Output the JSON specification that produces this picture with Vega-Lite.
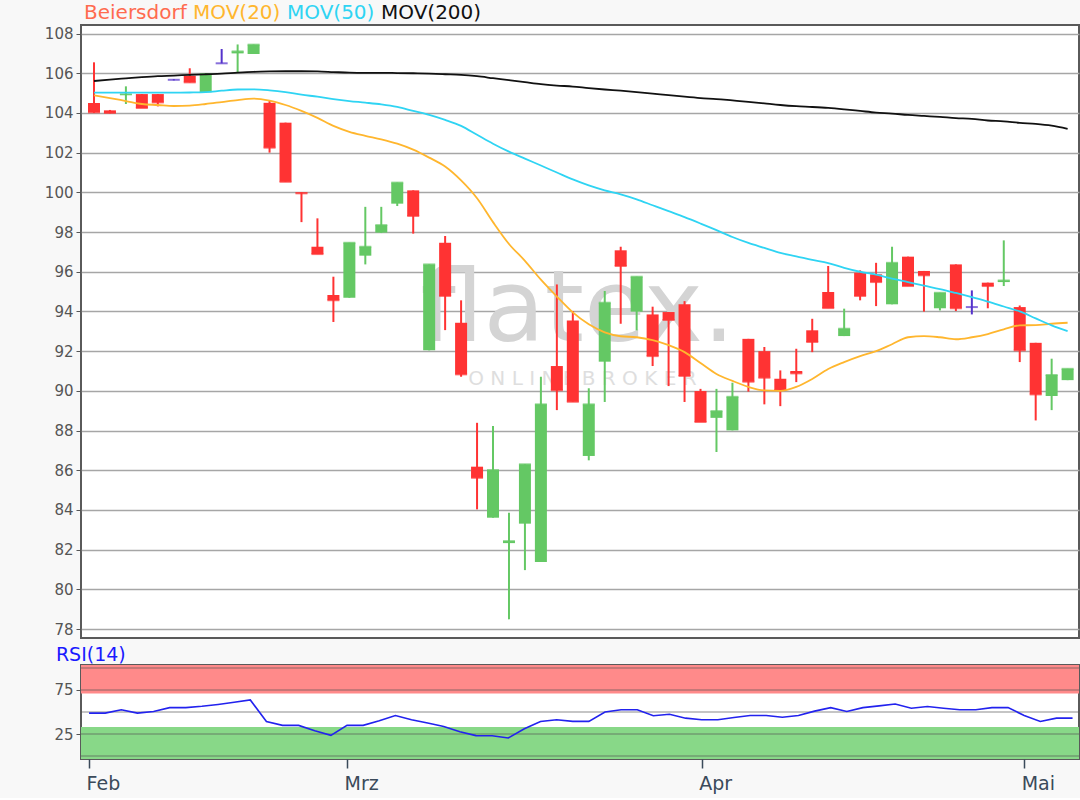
{
  "$schema": "https://vega.github.io/schema/vega-lite/v6.json",
  "background": "#f8f8f8",
  "padding": {"left": 43, "top": 3, "right": 0, "bottom": 4},
  "autosize": {"type": "pad"},
  "spacing": 6,
  "config": {
    "font": "DejaVu Sans",
    "view": {"stroke": "#5a5a5a", "strokeWidth": 2, "fill": "#ffffff"},
    "axis": {"labelFont": "DejaVu Sans", "labelColor": "#555555", "tickColor": "#555555", "domain": false, "title": null}
  },
  "datasets": {
    "candles": [
      {"i": 0, "open": 104.5, "high": 106.55, "low": 104.0, "close": 104.03},
      {"i": 1, "open": 104.13, "high": 104.15, "low": 103.98, "close": 104.0},
      {"i": 2, "open": 104.9, "high": 105.34, "low": 104.45, "close": 104.94},
      {"i": 3, "open": 104.95, "high": 104.95, "low": 104.25, "close": 104.25},
      {"i": 4, "open": 104.95, "high": 104.95, "low": 104.33, "close": 104.53},
      {"i": 5, "open": 105.67, "high": 105.7, "low": 105.64, "close": 105.67},
      {"i": 6, "open": 105.87, "high": 106.25, "low": 105.54, "close": 105.54},
      {"i": 7, "open": 105.04, "high": 106.0, "low": 105.04, "close": 105.96},
      {"i": 8, "open": 106.5, "high": 107.22, "low": 106.5, "close": 106.5},
      {"i": 9, "open": 107.0, "high": 107.45, "low": 106.05, "close": 107.1},
      {"i": 10, "open": 106.97, "high": 107.44, "low": 106.97, "close": 107.44},
      {"i": 11, "open": 104.51, "high": 104.6, "low": 102.0, "close": 102.25},
      {"i": 12, "open": 103.51, "high": 103.51, "low": 100.53, "close": 100.53},
      {"i": 13, "open": 100.0, "high": 100.0, "low": 98.5, "close": 99.95},
      {"i": 14, "open": 97.26, "high": 98.69, "low": 96.89, "close": 96.89},
      {"i": 15, "open": 94.83, "high": 95.75, "low": 93.47, "close": 94.57},
      {"i": 16, "open": 94.69, "high": 97.46, "low": 94.69, "close": 97.46},
      {"i": 17, "open": 96.81, "high": 99.27, "low": 96.37, "close": 97.26},
      {"i": 18, "open": 97.97, "high": 99.27, "low": 97.95, "close": 98.35},
      {"i": 19, "open": 99.43, "high": 100.49, "low": 99.31, "close": 100.49},
      {"i": 20, "open": 100.1, "high": 100.1, "low": 97.92, "close": 98.81},
      {"i": 21, "open": 92.04, "high": 96.37, "low": 92.04, "close": 96.37},
      {"i": 22, "open": 97.46, "high": 97.8, "low": 93.06, "close": 94.78},
      {"i": 23, "open": 93.43, "high": 94.56, "low": 90.71, "close": 90.83},
      {"i": 24, "open": 86.18, "high": 88.39, "low": 84.03, "close": 85.62},
      {"i": 25, "open": 83.61, "high": 88.23, "low": 83.61, "close": 86.01},
      {"i": 26, "open": 82.33, "high": 83.86, "low": 78.49, "close": 82.43},
      {"i": 27, "open": 83.31, "high": 86.3, "low": 80.97, "close": 86.3},
      {"i": 28, "open": 81.38, "high": 90.71, "low": 81.38, "close": 89.32},
      {"i": 29, "open": 91.25, "high": 95.36, "low": 89.03, "close": 90.03},
      {"i": 30, "open": 93.55, "high": 94.02, "low": 89.45, "close": 89.45},
      {"i": 31, "open": 86.72, "high": 90.13, "low": 86.5, "close": 89.32},
      {"i": 32, "open": 91.47, "high": 95.03, "low": 89.44, "close": 94.44},
      {"i": 33, "open": 97.08, "high": 97.26, "low": 93.38, "close": 96.29},
      {"i": 34, "open": 93.99, "high": 95.75, "low": 93.05, "close": 95.75},
      {"i": 35, "open": 93.85, "high": 94.24, "low": 91.25, "close": 91.75},
      {"i": 36, "open": 93.97, "high": 93.97, "low": 90.24, "close": 93.57},
      {"i": 37, "open": 94.36, "high": 94.52, "low": 89.44, "close": 90.75},
      {"i": 38, "open": 89.99, "high": 90.1, "low": 88.43, "close": 88.43},
      {"i": 39, "open": 88.64, "high": 90.1, "low": 86.92, "close": 88.98},
      {"i": 40, "open": 88.01, "high": 90.41, "low": 88.01, "close": 89.7},
      {"i": 41, "open": 92.62, "high": 92.62, "low": 89.96, "close": 90.46},
      {"i": 42, "open": 92.0, "high": 92.21, "low": 89.32, "close": 90.66},
      {"i": 43, "open": 90.61, "high": 91.03, "low": 89.23, "close": 90.04},
      {"i": 44, "open": 91.0, "high": 92.12, "low": 90.44, "close": 90.88},
      {"i": 45, "open": 93.05, "high": 93.63, "low": 91.95, "close": 92.46},
      {"i": 46, "open": 94.98, "high": 96.29, "low": 94.17, "close": 94.17},
      {"i": 47, "open": 92.76, "high": 94.14, "low": 92.76, "close": 93.13},
      {"i": 48, "open": 95.95, "high": 96.07, "low": 94.56, "close": 94.78},
      {"i": 49, "open": 95.87, "high": 96.45, "low": 94.27, "close": 95.48},
      {"i": 50, "open": 94.36, "high": 97.26, "low": 94.36, "close": 96.45},
      {"i": 51, "open": 96.76, "high": 96.76, "low": 95.28, "close": 95.28},
      {"i": 52, "open": 96.04, "high": 96.04, "low": 93.99, "close": 95.82},
      {"i": 53, "open": 94.16, "high": 94.94, "low": 94.05, "close": 94.94},
      {"i": 54, "open": 96.37, "high": 96.37, "low": 94.02, "close": 94.16},
      {"i": 55, "open": 94.22, "high": 95.06, "low": 93.85, "close": 94.22},
      {"i": 56, "open": 95.45, "high": 95.45, "low": 94.16, "close": 95.28},
      {"i": 57, "open": 95.48, "high": 97.58, "low": 95.28, "close": 95.56},
      {"i": 58, "open": 94.22, "high": 94.3, "low": 91.45, "close": 92.04},
      {"i": 59, "open": 92.42, "high": 92.42, "low": 88.51, "close": 89.82},
      {"i": 60, "open": 89.74, "high": 91.62, "low": 89.03, "close": 90.8},
      {"i": 61, "open": 90.54, "high": 91.11, "low": 90.54, "close": 91.11}
    ],
    "mov": [
      {"i": 0, "series": "MOV(20)", "value": 104.89}, {"i": 1, "series": "MOV(20)", "value": 104.75}, {"i": 2, "series": "MOV(20)", "value": 104.6}, {"i": 3, "series": "MOV(20)", "value": 104.45}, {"i": 4, "series": "MOV(20)", "value": 104.4}, {"i": 5, "series": "MOV(20)", "value": 104.35}, {"i": 6, "series": "MOV(20)", "value": 104.37}, {"i": 7, "series": "MOV(20)", "value": 104.45}, {"i": 8, "series": "MOV(20)", "value": 104.55}, {"i": 9, "series": "MOV(20)", "value": 104.65}, {"i": 10, "series": "MOV(20)", "value": 104.72}, {"i": 11, "series": "MOV(20)", "value": 104.62}, {"i": 12, "series": "MOV(20)", "value": 104.4}, {"i": 13, "series": "MOV(20)", "value": 104.1}, {"i": 14, "series": "MOV(20)", "value": 103.75}, {"i": 15, "series": "MOV(20)", "value": 103.35}, {"i": 16, "series": "MOV(20)", "value": 103.05}, {"i": 17, "series": "MOV(20)", "value": 102.85}, {"i": 18, "series": "MOV(20)", "value": 102.67}, {"i": 19, "series": "MOV(20)", "value": 102.45}, {"i": 20, "series": "MOV(20)", "value": 102.15}, {"i": 21, "series": "MOV(20)", "value": 101.75}, {"i": 22, "series": "MOV(20)", "value": 101.3}, {"i": 23, "series": "MOV(20)", "value": 100.6}, {"i": 24, "series": "MOV(20)", "value": 99.7}, {"i": 25, "series": "MOV(20)", "value": 98.5}, {"i": 26, "series": "MOV(20)", "value": 97.4}, {"i": 27, "series": "MOV(20)", "value": 96.55}, {"i": 28, "series": "MOV(20)", "value": 95.6}, {"i": 29, "series": "MOV(20)", "value": 94.75}, {"i": 30, "series": "MOV(20)", "value": 93.95}, {"i": 31, "series": "MOV(20)", "value": 93.35}, {"i": 32, "series": "MOV(20)", "value": 92.95}, {"i": 33, "series": "MOV(20)", "value": 92.75}, {"i": 34, "series": "MOV(20)", "value": 92.7}, {"i": 35, "series": "MOV(20)", "value": 92.55}, {"i": 36, "series": "MOV(20)", "value": 92.3}, {"i": 37, "series": "MOV(20)", "value": 91.95}, {"i": 38, "series": "MOV(20)", "value": 91.4}, {"i": 39, "series": "MOV(20)", "value": 90.85}, {"i": 40, "series": "MOV(20)", "value": 90.5}, {"i": 41, "series": "MOV(20)", "value": 90.2}, {"i": 42, "series": "MOV(20)", "value": 90.02}, {"i": 43, "series": "MOV(20)", "value": 90.0}, {"i": 44, "series": "MOV(20)", "value": 90.2}, {"i": 45, "series": "MOV(20)", "value": 90.6}, {"i": 46, "series": "MOV(20)", "value": 91.1}, {"i": 47, "series": "MOV(20)", "value": 91.45}, {"i": 48, "series": "MOV(20)", "value": 91.75}, {"i": 49, "series": "MOV(20)", "value": 92.0}, {"i": 50, "series": "MOV(20)", "value": 92.35}, {"i": 51, "series": "MOV(20)", "value": 92.7}, {"i": 52, "series": "MOV(20)", "value": 92.76}, {"i": 53, "series": "MOV(20)", "value": 92.7}, {"i": 54, "series": "MOV(20)", "value": 92.6}, {"i": 55, "series": "MOV(20)", "value": 92.7}, {"i": 56, "series": "MOV(20)", "value": 92.86}, {"i": 57, "series": "MOV(20)", "value": 93.1}, {"i": 58, "series": "MOV(20)", "value": 93.3}, {"i": 59, "series": "MOV(20)", "value": 93.31}, {"i": 60, "series": "MOV(20)", "value": 93.38}, {"i": 61, "series": "MOV(20)", "value": 93.43},
      {"i": 0, "series": "MOV(50)", "value": 105.02}, {"i": 1, "series": "MOV(50)", "value": 105.02}, {"i": 2, "series": "MOV(50)", "value": 105.02}, {"i": 3, "series": "MOV(50)", "value": 105.02}, {"i": 4, "series": "MOV(50)", "value": 105.02}, {"i": 5, "series": "MOV(50)", "value": 105.02}, {"i": 6, "series": "MOV(50)", "value": 105.03}, {"i": 7, "series": "MOV(50)", "value": 105.05}, {"i": 8, "series": "MOV(50)", "value": 105.12}, {"i": 9, "series": "MOV(50)", "value": 105.18}, {"i": 10, "series": "MOV(50)", "value": 105.19}, {"i": 11, "series": "MOV(50)", "value": 105.14}, {"i": 12, "series": "MOV(50)", "value": 105.05}, {"i": 13, "series": "MOV(50)", "value": 104.92}, {"i": 14, "series": "MOV(50)", "value": 104.82}, {"i": 15, "series": "MOV(50)", "value": 104.7}, {"i": 16, "series": "MOV(50)", "value": 104.6}, {"i": 17, "series": "MOV(50)", "value": 104.52}, {"i": 18, "series": "MOV(50)", "value": 104.43}, {"i": 19, "series": "MOV(50)", "value": 104.3}, {"i": 20, "series": "MOV(50)", "value": 104.1}, {"i": 21, "series": "MOV(50)", "value": 103.9}, {"i": 22, "series": "MOV(50)", "value": 103.65}, {"i": 23, "series": "MOV(50)", "value": 103.35}, {"i": 24, "series": "MOV(50)", "value": 102.9}, {"i": 25, "series": "MOV(50)", "value": 102.45}, {"i": 26, "series": "MOV(50)", "value": 102.05}, {"i": 27, "series": "MOV(50)", "value": 101.7}, {"i": 28, "series": "MOV(50)", "value": 101.35}, {"i": 29, "series": "MOV(50)", "value": 101.0}, {"i": 30, "series": "MOV(50)", "value": 100.65}, {"i": 31, "series": "MOV(50)", "value": 100.35}, {"i": 32, "series": "MOV(50)", "value": 100.1}, {"i": 33, "series": "MOV(50)", "value": 99.9}, {"i": 34, "series": "MOV(50)", "value": 99.65}, {"i": 35, "series": "MOV(50)", "value": 99.35}, {"i": 36, "series": "MOV(50)", "value": 99.05}, {"i": 37, "series": "MOV(50)", "value": 98.75}, {"i": 38, "series": "MOV(50)", "value": 98.43}, {"i": 39, "series": "MOV(50)", "value": 98.1}, {"i": 40, "series": "MOV(50)", "value": 97.75}, {"i": 41, "series": "MOV(50)", "value": 97.45}, {"i": 42, "series": "MOV(50)", "value": 97.2}, {"i": 43, "series": "MOV(50)", "value": 96.95}, {"i": 44, "series": "MOV(50)", "value": 96.78}, {"i": 45, "series": "MOV(50)", "value": 96.6}, {"i": 46, "series": "MOV(50)", "value": 96.44}, {"i": 47, "series": "MOV(50)", "value": 96.2}, {"i": 48, "series": "MOV(50)", "value": 96.0}, {"i": 49, "series": "MOV(50)", "value": 95.85}, {"i": 50, "series": "MOV(50)", "value": 95.65}, {"i": 51, "series": "MOV(50)", "value": 95.48}, {"i": 52, "series": "MOV(50)", "value": 95.3}, {"i": 53, "series": "MOV(50)", "value": 95.13}, {"i": 54, "series": "MOV(50)", "value": 94.93}, {"i": 55, "series": "MOV(50)", "value": 94.72}, {"i": 56, "series": "MOV(50)", "value": 94.5}, {"i": 57, "series": "MOV(50)", "value": 94.25}, {"i": 58, "series": "MOV(50)", "value": 94.0}, {"i": 59, "series": "MOV(50)", "value": 93.65}, {"i": 60, "series": "MOV(50)", "value": 93.3}, {"i": 61, "series": "MOV(50)", "value": 93.01},
      {"i": 0, "series": "MOV(200)", "value": 105.61}, {"i": 1, "series": "MOV(200)", "value": 105.68}, {"i": 2, "series": "MOV(200)", "value": 105.74}, {"i": 3, "series": "MOV(200)", "value": 105.8}, {"i": 4, "series": "MOV(200)", "value": 105.85}, {"i": 5, "series": "MOV(200)", "value": 105.88}, {"i": 6, "series": "MOV(200)", "value": 105.92}, {"i": 7, "series": "MOV(200)", "value": 105.95}, {"i": 8, "series": "MOV(200)", "value": 105.98}, {"i": 9, "series": "MOV(200)", "value": 106.03}, {"i": 10, "series": "MOV(200)", "value": 106.07}, {"i": 11, "series": "MOV(200)", "value": 106.09}, {"i": 12, "series": "MOV(200)", "value": 106.1}, {"i": 13, "series": "MOV(200)", "value": 106.1}, {"i": 14, "series": "MOV(200)", "value": 106.09}, {"i": 15, "series": "MOV(200)", "value": 106.06}, {"i": 16, "series": "MOV(200)", "value": 106.03}, {"i": 17, "series": "MOV(200)", "value": 106.02}, {"i": 18, "series": "MOV(200)", "value": 106.02}, {"i": 19, "series": "MOV(200)", "value": 106.01}, {"i": 20, "series": "MOV(200)", "value": 106.0}, {"i": 21, "series": "MOV(200)", "value": 105.98}, {"i": 22, "series": "MOV(200)", "value": 105.95}, {"i": 23, "series": "MOV(200)", "value": 105.92}, {"i": 24, "series": "MOV(200)", "value": 105.85}, {"i": 25, "series": "MOV(200)", "value": 105.75}, {"i": 26, "series": "MOV(200)", "value": 105.65}, {"i": 27, "series": "MOV(200)", "value": 105.55}, {"i": 28, "series": "MOV(200)", "value": 105.45}, {"i": 29, "series": "MOV(200)", "value": 105.38}, {"i": 30, "series": "MOV(200)", "value": 105.33}, {"i": 31, "series": "MOV(200)", "value": 105.25}, {"i": 32, "series": "MOV(200)", "value": 105.18}, {"i": 33, "series": "MOV(200)", "value": 105.12}, {"i": 34, "series": "MOV(200)", "value": 105.05}, {"i": 35, "series": "MOV(200)", "value": 104.97}, {"i": 36, "series": "MOV(200)", "value": 104.9}, {"i": 37, "series": "MOV(200)", "value": 104.82}, {"i": 38, "series": "MOV(200)", "value": 104.75}, {"i": 39, "series": "MOV(200)", "value": 104.7}, {"i": 40, "series": "MOV(200)", "value": 104.63}, {"i": 41, "series": "MOV(200)", "value": 104.56}, {"i": 42, "series": "MOV(200)", "value": 104.48}, {"i": 43, "series": "MOV(200)", "value": 104.4}, {"i": 44, "series": "MOV(200)", "value": 104.34}, {"i": 45, "series": "MOV(200)", "value": 104.3}, {"i": 46, "series": "MOV(200)", "value": 104.25}, {"i": 47, "series": "MOV(200)", "value": 104.18}, {"i": 48, "series": "MOV(200)", "value": 104.1}, {"i": 49, "series": "MOV(200)", "value": 104.02}, {"i": 50, "series": "MOV(200)", "value": 103.97}, {"i": 51, "series": "MOV(200)", "value": 103.9}, {"i": 52, "series": "MOV(200)", "value": 103.85}, {"i": 53, "series": "MOV(200)", "value": 103.8}, {"i": 54, "series": "MOV(200)", "value": 103.74}, {"i": 55, "series": "MOV(200)", "value": 103.7}, {"i": 56, "series": "MOV(200)", "value": 103.62}, {"i": 57, "series": "MOV(200)", "value": 103.58}, {"i": 58, "series": "MOV(200)", "value": 103.5}, {"i": 59, "series": "MOV(200)", "value": 103.45}, {"i": 60, "series": "MOV(200)", "value": 103.36}, {"i": 61, "series": "MOV(200)", "value": 103.2}
    ],
    "rsi": [
      {"i": 0, "rsi": 48.7}, {"i": 1, "rsi": 48.7}, {"i": 2, "rsi": 52.5}, {"i": 3, "rsi": 48.7}, {"i": 4, "rsi": 50.5}, {"i": 5, "rsi": 55}, {"i": 6, "rsi": 55}, {"i": 7, "rsi": 56.5}, {"i": 8, "rsi": 58.6}, {"i": 9, "rsi": 61}, {"i": 10, "rsi": 63.7}, {"i": 11, "rsi": 39.3}, {"i": 12, "rsi": 34.8}, {"i": 13, "rsi": 34.8}, {"i": 14, "rsi": 28.8}, {"i": 15, "rsi": 23.5}, {"i": 16, "rsi": 34.8}, {"i": 17, "rsi": 34.8}, {"i": 18, "rsi": 40}, {"i": 19, "rsi": 46}, {"i": 20, "rsi": 41.2}, {"i": 21, "rsi": 37.4}, {"i": 22, "rsi": 33.5}, {"i": 23, "rsi": 27.5}, {"i": 24, "rsi": 23.2}, {"i": 25, "rsi": 23}, {"i": 26, "rsi": 20.5}, {"i": 27, "rsi": 31}, {"i": 28, "rsi": 39.3}, {"i": 29, "rsi": 41.2}, {"i": 30, "rsi": 39.3}, {"i": 31, "rsi": 39.3}, {"i": 32, "rsi": 50}, {"i": 33, "rsi": 52.5}, {"i": 34, "rsi": 52.5}, {"i": 35, "rsi": 45.7}, {"i": 36, "rsi": 47.5}, {"i": 37, "rsi": 43}, {"i": 38, "rsi": 41.2}, {"i": 39, "rsi": 41.2}, {"i": 40, "rsi": 43.8}, {"i": 41, "rsi": 46.1}, {"i": 42, "rsi": 46.1}, {"i": 43, "rsi": 44}, {"i": 44, "rsi": 46}, {"i": 45, "rsi": 51}, {"i": 46, "rsi": 55}, {"i": 47, "rsi": 50.6}, {"i": 48, "rsi": 55}, {"i": 49, "rsi": 57}, {"i": 50, "rsi": 59}, {"i": 51, "rsi": 54.3}, {"i": 52, "rsi": 56.2}, {"i": 53, "rsi": 54.3}, {"i": 54, "rsi": 52.5}, {"i": 55, "rsi": 52.5}, {"i": 56, "rsi": 55}, {"i": 57, "rsi": 55}, {"i": 58, "rsi": 46}, {"i": 59, "rsi": 39.3}, {"i": 60, "rsi": 43}, {"i": 61, "rsi": 43}
    ],
    "zones": [
      {"zone": "overbought", "lo": 71, "hi": 103.4},
      {"zone": "oversold", "lo": -3.4, "hi": 33}
    ],
    "levels": [{"level": 0}, {"level": 25}, {"level": 50}, {"level": 75}, {"level": 100}],
    "watermark": [{"i": 30.3, "y": 92.5, "txt": "flatex."}],
    "watermark2": [{"i": 30.6, "y": 90.6, "txt": "O N L I N E   B R O K E R"}]
  },
  "vconcat": [
    {
      "width": 998,
      "height": 613,
      "layer": [
        {
          "data": {"name": "watermark"},
          "mark": {"type": "text", "fontSize": 100, "color": "#d4d4d4", "align": "center", "baseline": "alphabetic", "font": "DejaVu Sans"},
          "encoding": {
            "x": {"field": "i", "type": "quantitative", "scale": {"domain": [-0.5, 61.4], "nice": false, "zero": false}, "axis": null},
            "y": {"field": "y", "type": "quantitative", "scale": {"domain": [77.55, 108.43], "nice": false, "zero": false},
              "axis": {"values": [78, 80, 82, 84, 86, 88, 90, 92, 94, 96, 98, 100, 102, 104, 106, 108], "grid": true, "gridColor": "#a6a6a6", "gridWidth": 1.6, "tickSize": 5, "labelFontSize": 15, "labelPadding": 3, "title": null}},
            "text": {"field": "txt", "type": "nominal"}
          }
        },
        {
          "data": {"name": "watermark2"},
          "mark": {"type": "text", "fontSize": 20, "color": "#dedede", "align": "center", "baseline": "middle", "font": "DejaVu Sans"},
          "encoding": {
            "x": {"field": "i", "type": "quantitative"},
            "y": {"field": "y", "type": "quantitative"},
            "text": {"field": "txt", "type": "nominal"}
          }
        },
        {
          "data": {"name": "candles"},
          "mark": {"type": "rule", "strokeWidth": 2},
          "encoding": {
            "x": {"field": "i", "type": "quantitative"},
            "y": {"field": "low", "type": "quantitative"},
            "y2": {"field": "high"},
            "color": {"condition": [{"test": "datum.close > datum.open", "value": "#64c864"}, {"test": "datum.close == datum.open", "value": "#5533cc"}], "value": "#ff3333"}
          }
        },
        {
          "data": {"name": "candles"},
          "mark": {"type": "bar", "width": 12},
          "encoding": {
            "x": {"field": "i", "type": "quantitative"},
            "y": {"field": "open", "type": "quantitative"},
            "y2": {"field": "close"},
            "color": {"condition": [{"test": "datum.close > datum.open", "value": "#64c864"}, {"test": "datum.close == datum.open", "value": "#5533cc"}], "value": "#ff3333"}
          }
        },
        {
          "data": {"name": "candles"},
          "mark": {"type": "tick", "orient": "horizontal", "size": 12, "thickness": 2},
          "encoding": {
            "x": {"field": "i", "type": "quantitative"},
            "y": {"field": "close", "type": "quantitative"},
            "color": {"condition": [{"test": "datum.close > datum.open", "value": "#64c864"}, {"test": "datum.close == datum.open", "value": "#5533cc"}], "value": "#ff3333"}
          }
        },
        {
          "data": {"name": "mov"},
          "mark": {"type": "line", "strokeWidth": 1.8, "interpolate": "monotone"},
          "encoding": {
            "x": {"field": "i", "type": "quantitative"},
            "y": {"field": "value", "type": "quantitative"},
            "stroke": {
              "field": "series", "type": "nominal",
              "scale": {"domain": ["Beiersdorf", "MOV(20)", "MOV(50)", "MOV(200)"], "range": ["#ff6b4f", "#ffb62e", "#2fd4f3", "#111111"]},
              "legend": {
                "orient": "none", "legendX": 3, "legendY": -22, "direction": "horizontal", "title": null,
                "symbolType": "circle", "symbolSize": 0.01, "symbolStrokeWidth": 0, "symbolOpacity": 0, "labelOffset": -20, "columnPadding": 6,
                "labelFontSize": 20, "labelFont": "DejaVu Sans", "labelLimit": 0, "padding": 0,
                "labelColor": {"expr": "datum.value == 'Beiersdorf' ? '#ff6b4f' : datum.value == 'MOV(20)' ? '#ffb62e' : datum.value == 'MOV(50)' ? '#2fd4f3' : '#111111'"}
              }
            }
          }
        }
      ]
    },
    {
      "width": 998,
      "height": 94,
      "title": {"text": "RSI(14)", "anchor": "start", "color": "#1a1aff", "fontSize": 19, "font": "DejaVu Sans", "fontWeight": "normal", "offset": 0, "dx": 2},
      "layer": [
        {
          "data": {"name": "zones"},
          "mark": {"type": "rect"},
          "encoding": {
            "x": {"value": 0},
            "x2": {"value": "width"},
            "y": {"field": "lo", "type": "quantitative", "scale": {"domain": [-3.4, 103.4], "nice": false, "zero": false},
              "axis": {"values": [25, 75], "grid": false, "tickSize": 5, "labelFontSize": 15, "labelPadding": 3, "title": null}},
            "y2": {"field": "hi"},
            "color": {"field": "zone", "type": "nominal", "scale": {"domain": ["overbought", "oversold"], "range": ["#ff8a8a", "#88d888"]}, "legend": null}
          }
        },
        {
          "data": {"name": "levels"},
          "mark": {"type": "rule", "color": "#555555", "opacity": 0.45, "strokeWidth": 1.6},
          "encoding": {"y": {"field": "level", "type": "quantitative"}}
        },
        {
          "data": {"name": "rsi"},
          "mark": {"type": "line", "color": "#2222ee", "strokeWidth": 1.6},
          "encoding": {
            "x": {"field": "i", "type": "quantitative", "scale": {"domain": [-0.5, 61.4], "nice": false, "zero": false},
              "axis": {"values": [0, 16, 38, 58], "labelExpr": "datum.value == 0 ? 'Feb' : datum.value == 16 ? 'Mrz' : datum.value == 38 ? 'Apr' : 'Mai'", "grid": false, "labelAlign": "left", "labelOffset": -3, "labelFontSize": 19, "labelColor": "#3b4a5a", "tickColor": "#3b4a5a", "tickSize": 9, "tickWidth": 1.5, "labelPadding": 6, "labelFlush": false, "title": null}},
            "y": {"field": "rsi", "type": "quantitative"}
          }
        }
      ]
    }
  ]
}
